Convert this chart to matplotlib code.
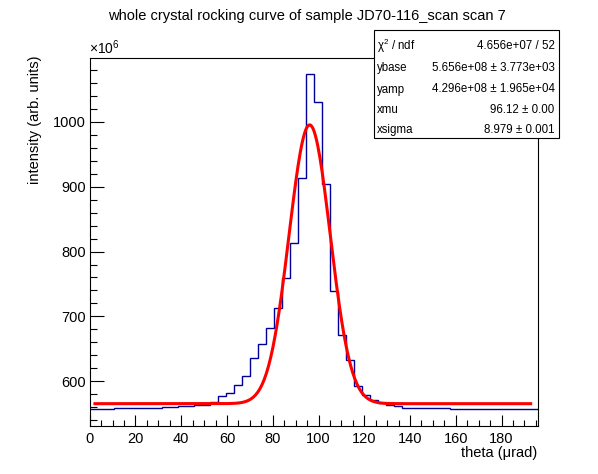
import numpy as np
import matplotlib
matplotlib.use("Agg")
import matplotlib.pyplot as plt
from matplotlib.patches import Rectangle
from matplotlib.ticker import MultipleLocator

plt.rcParams['font.family'] = ['Liberation Sans', 'DejaVu Sans']
plt.rcParams['mathtext.fontset'] = 'custom'
plt.rcParams['mathtext.rm'] = 'Liberation Sans'
plt.rcParams['mathtext.it'] = 'Liberation Sans:italic'

# histogram: 56 bins of 3.5 urad, intensity in units of 1e6
bin_width = 3.5
counts = [556.9, 556.9, 556.9, 558.4, 558.4, 558.4, 558.4, 558.4, 558.4, 559.9,
          559.9, 561.5, 561.5, 563.0, 564.2, 568.6, 577.1, 581.5, 593.8, 607.7,
          635.4, 657.5, 681.7, 712.9, 758.7, 812.6, 912.8, 1073.0, 1030.0, 903.5,
          739.1, 670.9, 632.8, 592.5, 578.6, 571.0, 566.6, 563.0, 561.5, 559.3,
          559.3, 558.4, 558.4, 558.4, 558.4, 556.9, 556.9, 556.9, 556.9, 556.9,
          556.9, 556.9, 556.9, 556.9, 556.9, 556.9]

# fit parameters (from stats box)
ybase = 5.656e8
yamp = 4.296e8
xmu = 96.12
xsigma = 8.979
fit_range = (2.3, 192.7)

stat_names = ["\u03c7$^{2}$ / ndf", "ybase", "yamp", "xmu", "xsigma"]
stat_values = ["4.656e+07 / 52", "5.656e+08 \u00b1 3.773e+03",
               "4.296e+08 \u00b1 1.965e+04", "96.12 \u00b1 0.00",
               "8.979 \u00b1 0.001"]

W, H = 598, 474
fig = plt.figure(figsize=(W / 100, H / 100), dpi=100)
ax = fig.add_axes([89.7 / W, 48 / H, (538.2 - 89.7) / W, (426 - 57.6) / H])

edges = np.arange(len(counts) + 1) * bin_width
ax.stairs(counts, edges, baseline=None, color='#000099', linewidth=1.0)

xf = np.linspace(fit_range[0], fit_range[1], 400)
yf = (ybase + yamp * np.exp(-0.5 * ((xf - xmu) / xsigma) ** 2)) / 1e6
ax.plot(xf, yf, color='#ff0000', linewidth=2.2)

ax.set_xlim(0, edges[-1])
ax.set_ylim(531.2, 1098.8)

ax.xaxis.set_major_locator(MultipleLocator(20))
ax.xaxis.set_minor_locator(MultipleLocator(5))
ax.yaxis.set_major_locator(MultipleLocator(100))
ax.yaxis.set_minor_locator(MultipleLocator(20))
ax.tick_params(which='both', direction='in', top=False, right=False, width=0.8)
ax.tick_params(axis='x', which='major', length=8, pad=4, labelsize=10.5)
ax.tick_params(axis='x', which='minor', length=4)
ax.tick_params(axis='y', which='major', length=10, pad=2.5, labelsize=10.5)
ax.tick_params(axis='y', which='minor', length=5)
for s in ax.spines.values():
    s.set_linewidth(0.8)

fig.text(537 / W, 1 - 453 / H, "theta (\u03bcrad)", ha='right', va='center', fontsize=10.5)
fig.text(35 / W, 1 - 56 / H, "intensity (arb. units)", rotation=90,
         ha='center', va='top', fontsize=10.5)
fig.text(89 / W, 1 - 54 / H, "\u00d710$^{6}$", ha='left', va='baseline', fontsize=10)
fig.text(307 / W, 1 - 16 / H, "whole crystal rocking curve of sample JD70-116_scan scan 7",
         ha='center', va='center', fontsize=10.5)

# stats box
box_l, box_r, box_t, box_b = 374, 559, 30, 138.5
fig.patches.append(Rectangle((box_l / W, 1 - box_b / H), (box_r - box_l) / W,
                             (box_b - box_t) / H, transform=fig.transFigure,
                             facecolor='white', edgecolor='black', linewidth=0.8))
row_y = [46, 68, 89.5, 110, 130]
for name, val, yy in zip(stat_names, stat_values, row_y):
    fig.text(377 / W, 1 - yy / H, name, ha='left', va='center', fontsize=8.3)
    fig.text(554.5 / W, 1 - yy / H, val, ha='right', va='center', fontsize=8.3)

fig.savefig("out.png", dpi=100)
